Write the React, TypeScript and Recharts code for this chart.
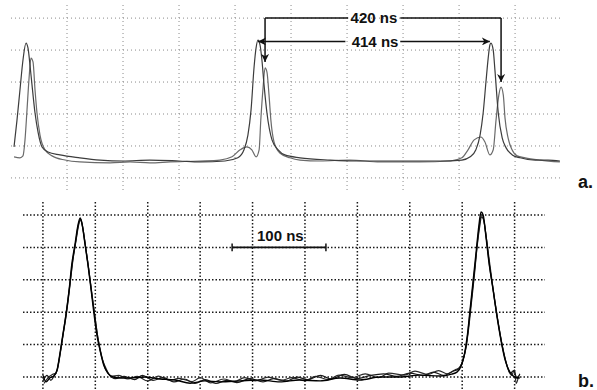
import { LineChart, Line, XAxis, YAxis, CartesianGrid, ReferenceLine, ReferenceDot } from 'recharts';

const FONT = '"Liberation Sans", Arial, Helvetica, sans-serif';

// panel a: time in ns, amplitude in screen divisions
const aTimeTicks = [100, 200, 300, 400, 500, 600, 700, 800, 900];
const aLevelTicks = [0, 1, 2, 3, 4, 5];

const aTraceFast = [
  { t: 5.4, v: 0.97 }, { t: 10.7, v: 1.81 }, { t: 16, v: 2.75 }, { t: 21.4, v: 3.69 },
  { t: 26.8, v: 4.22 }, { t: 30.4, v: 4.06 }, { t: 33.9, v: 3.53 }, { t: 37.5, v: 2.91 },
  { t: 42.9, v: 2.03 }, { t: 48.2, v: 1.44 }, { t: 55.4, v: 0.97 }, { t: 66, v: 0.81 },
  { t: 87.5, v: 0.72 }, { t: 123, v: 0.63 }, { t: 159, v: 0.56 }, { t: 200, v: 0.53 },
  { t: 248, v: 0.56 }, { t: 300, v: 0.53 }, { t: 337.5, v: 0.5 }, { t: 382, v: 0.53 },
  { t: 405, v: 0.63 }, { t: 416, v: 0.88 }, { t: 423, v: 1.34 }, { t: 428.6, v: 2.13 },
  { t: 434, v: 3.47 }, { t: 437.5, v: 4.06 }, { t: 441, v: 4.31 }, { t: 444.6, v: 4.16 },
  { t: 448, v: 3.69 }, { t: 451.8, v: 2.91 }, { t: 457, v: 2.03 }, { t: 466, v: 1.19 },
  { t: 477, v: 0.88 }, { t: 489, v: 0.72 }, { t: 516, v: 0.63 }, { t: 570, v: 0.56 },
  { t: 623, v: 0.53 }, { t: 695, v: 0.53 }, { t: 766, v: 0.53 }, { t: 805, v: 0.56 },
  { t: 820, v: 0.66 }, { t: 830, v: 0.88 }, { t: 837.5, v: 1.34 }, { t: 843, v: 2.03 },
  { t: 848, v: 3.0 }, { t: 852, v: 3.75 }, { t: 855, v: 4.16 }, { t: 857, v: 4.22 },
  { t: 861, v: 4.0 }, { t: 864, v: 3.38 }, { t: 870, v: 2.03 }, { t: 877, v: 1.25 },
  { t: 884, v: 0.94 }, { t: 895, v: 0.72 }, { t: 909, v: 0.63 }, { t: 936, v: 0.56 },
  { t: 959, v: 0.56 }, { t: 980, v: 0.53 },
];

const aTraceSlow = [
  { t: 5.4, v: 0.66 }, { t: 16, v: 0.63 }, { t: 21.4, v: 0.69 }, { t: 25, v: 1.19 },
  { t: 28.6, v: 2.13 }, { t: 32, v: 3.06 }, { t: 35.7, v: 3.75 }, { t: 39.3, v: 3.63 },
  { t: 42.9, v: 2.75 }, { t: 46.4, v: 2.03 }, { t: 51.8, v: 1.34 }, { t: 60.7, v: 0.88 },
  { t: 73.2, v: 0.69 }, { t: 96.4, v: 0.56 }, { t: 123, v: 0.5 }, { t: 177, v: 0.47 },
  { t: 212.5, v: 0.5 }, { t: 248, v: 0.47 }, { t: 284, v: 0.5 }, { t: 337.5, v: 0.53 },
  { t: 373, v: 0.56 }, { t: 394.6, v: 0.66 }, { t: 409, v: 0.88 }, { t: 421, v: 0.97 },
  { t: 430, v: 0.88 }, { t: 437.5, v: 0.66 }, { t: 443, v: 0.88 }, { t: 446, v: 1.81 },
  { t: 450, v: 2.81 }, { t: 453.6, v: 3.44 }, { t: 457, v: 3.31 }, { t: 460.7, v: 2.59 },
  { t: 464, v: 1.81 }, { t: 469.6, v: 1.13 }, { t: 480, v: 0.78 }, { t: 498, v: 0.63 },
  { t: 516, v: 0.56 }, { t: 552, v: 0.53 }, { t: 605, v: 0.56 }, { t: 659, v: 0.5 },
  { t: 730, v: 0.5 }, { t: 784, v: 0.53 }, { t: 805, v: 0.63 }, { t: 816, v: 0.88 },
  { t: 827, v: 1.19 }, { t: 839, v: 1.28 }, { t: 846, v: 1.13 }, { t: 855, v: 0.72 },
  { t: 861, v: 0.88 }, { t: 866, v: 1.81 }, { t: 871, v: 2.59 }, { t: 875, v: 2.84 },
  { t: 879, v: 2.59 }, { t: 882, v: 1.88 }, { t: 887.5, v: 1.25 }, { t: 894.6, v: 0.88 },
  { t: 903.6, v: 0.69 }, { t: 918, v: 0.63 }, { t: 945, v: 0.56 }, { t: 980, v: 0.5 },
];

// panel b: time in screen divisions, amplitude in divisions
const bTimeTicks = [0, 1, 2, 3, 4, 5, 6, 7, 8, 9];
const bLevelTicks = [0, 1, 2, 3, 4, 5];

const bTrace1 = [
  { t: 0, v: 0.06 }, { t: 0.06, v: -0.15 }, { t: 0.13, v: -0.03 }, { t: 0.21, v: 0.03 },
  { t: 0.27, v: 0.22 }, { t: 0.32, v: 0.68 }, { t: 0.38, v: 1.3 }, { t: 0.44, v: 1.91 },
  { t: 0.5, v: 2.69 }, { t: 0.55, v: 3.46 }, { t: 0.61, v: 4.07 }, { t: 0.67, v: 4.69 },
  { t: 0.71, v: 4.91 }, { t: 0.74, v: 4.78 }, { t: 0.8, v: 4.14 }, { t: 0.86, v: 3.46 },
  { t: 0.92, v: 2.69 }, { t: 0.97, v: 2.01 }, { t: 1.03, v: 1.3 }, { t: 1.09, v: 0.83 },
  { t: 1.16, v: 0.37 }, { t: 1.24, v: 0.12 }, { t: 1.34, v: 0.0 }, { t: 1.47, v: -0.03 },
  { t: 1.66, v: -0.03 }, { t: 1.95, v: 0 }, { t: 2.23, v: -0.06 }, { t: 2.52, v: -0.09 },
  { t: 2.81, v: -0.19 }, { t: 3.09, v: -0.12 }, { t: 3.38, v: -0.15 }, { t: 3.76, v: -0.12 },
  { t: 4.14, v: -0.09 }, { t: 4.52, v: -0.15 }, { t: 4.9, v: -0.09 }, { t: 5.29, v: -0.12 },
  { t: 5.67, v: -0.03 }, { t: 6.05, v: -0.09 }, { t: 6.43, v: 0 }, { t: 6.81, v: 0 },
  { t: 7.19, v: 0.06 }, { t: 7.58, v: 0.03 }, { t: 7.8, v: 0.09 }, { t: 7.9, v: 0.15 },
  { t: 7.98, v: 0.34 }, { t: 8.04, v: 0.68 }, { t: 8.1, v: 1.3 }, { t: 8.15, v: 2.07 },
  { t: 8.21, v: 2.99 }, { t: 8.27, v: 3.92 }, { t: 8.32, v: 4.69 }, { t: 8.36, v: 5.09 },
  { t: 8.4, v: 5.0 }, { t: 8.45, v: 4.38 }, { t: 8.51, v: 3.55 }, { t: 8.59, v: 2.69 },
  { t: 8.66, v: 1.91 }, { t: 8.74, v: 1.14 }, { t: 8.82, v: 0.52 }, { t: 8.91, v: 0.15 },
  { t: 9.01, v: 0 }, { t: 9.1, v: -0.03 },
];

const bTrace2 = [
  { t: 0, v: -0.12 }, { t: 0.08, v: 0.05 }, { t: 0.15, v: -0.1 }, { t: 0.22, v: 0.06 },
  { t: 0.28, v: 0.25 }, { t: 0.33, v: 0.72 }, { t: 0.39, v: 1.35 }, { t: 0.45, v: 1.98 },
  { t: 0.51, v: 2.75 }, { t: 0.56, v: 3.5 }, { t: 0.62, v: 4.1 }, { t: 0.67, v: 4.65 },
  { t: 0.71, v: 4.85 }, { t: 0.75, v: 4.7 }, { t: 0.81, v: 4.05 }, { t: 0.87, v: 3.38 },
  { t: 0.93, v: 2.6 }, { t: 0.99, v: 1.9 }, { t: 1.05, v: 1.2 }, { t: 1.11, v: 0.72 },
  { t: 1.18, v: 0.3 }, { t: 1.26, v: 0.08 }, { t: 1.38, v: -0.05 }, { t: 1.55, v: 0.02 },
  { t: 1.75, v: -0.08 }, { t: 1.9, v: 0.05 }, { t: 2.1, v: -0.1 }, { t: 2.3, v: -0.02 },
  { t: 2.5, v: -0.15 }, { t: 2.7, v: -0.06 }, { t: 2.9, v: -0.2 }, { t: 3.1, v: -0.08 },
  { t: 3.3, v: -0.2 }, { t: 3.5, v: -0.1 }, { t: 3.7, v: -0.17 }, { t: 3.95, v: -0.05 },
  { t: 4.2, v: -0.15 }, { t: 4.4, v: -0.05 }, { t: 4.65, v: -0.12 }, { t: 4.85, v: 0.0 },
  { t: 5.05, v: -0.08 }, { t: 5.3, v: 0.05 }, { t: 5.5, v: -0.06 }, { t: 5.75, v: 0.08 },
  { t: 6.0, v: -0.05 }, { t: 6.25, v: 0.05 }, { t: 6.5, v: 0.1 }, { t: 6.75, v: 0.02 },
  { t: 7.0, v: 0.12 }, { t: 7.25, v: 0.05 }, { t: 7.45, v: 0.15 }, { t: 7.65, v: 0.05 },
  { t: 7.82, v: 0.18 }, { t: 7.93, v: 0.25 }, { t: 8.0, v: 0.45 }, { t: 8.06, v: 0.8 },
  { t: 8.12, v: 1.45 }, { t: 8.17, v: 2.2 }, { t: 8.23, v: 3.1 }, { t: 8.28, v: 3.95 },
  { t: 8.33, v: 4.6 }, { t: 8.37, v: 4.94 }, { t: 8.41, v: 4.85 }, { t: 8.46, v: 4.3 },
  { t: 8.52, v: 3.45 }, { t: 8.6, v: 2.6 }, { t: 8.67, v: 1.85 }, { t: 8.75, v: 1.08 },
  { t: 8.83, v: 0.5 }, { t: 8.92, v: 0.12 }, { t: 8.98, v: 0.2 }, { t: 9.05, v: -0.05 },
  { t: 9.1, v: 0.1 },
];

const bTrace3 = [
  { t: 0.02, v: -0.2 }, { t: 0.1, v: -0.02 }, { t: 0.18, v: 0.08 }, { t: 0.25, v: 0.12 },
  { t: 0.3, v: 0.45 }, { t: 0.35, v: 0.95 }, { t: 0.41, v: 1.6 }, { t: 0.47, v: 2.3 },
  { t: 0.53, v: 3.05 }, { t: 0.58, v: 3.7 }, { t: 0.64, v: 4.3 }, { t: 0.69, v: 4.75 },
  { t: 0.72, v: 4.88 }, { t: 0.76, v: 4.6 }, { t: 0.82, v: 3.95 }, { t: 0.88, v: 3.25 },
  { t: 0.94, v: 2.5 }, { t: 1.0, v: 1.75 }, { t: 1.06, v: 1.1 }, { t: 1.12, v: 0.62 },
  { t: 1.2, v: 0.28 }, { t: 1.3, v: 0.02 }, { t: 1.45, v: 0.05 }, { t: 1.62, v: -0.06 },
  { t: 1.8, v: 0.02 }, { t: 2.0, v: -0.12 }, { t: 2.2, v: 0.03 }, { t: 2.42, v: -0.1 },
  { t: 2.6, v: -0.04 }, { t: 2.85, v: -0.14 }, { t: 3.0, v: -0.02 }, { t: 3.2, v: -0.18 },
  { t: 3.45, v: -0.06 }, { t: 3.65, v: -0.14 }, { t: 3.85, v: -0.02 }, { t: 4.05, v: -0.12 },
  { t: 4.3, v: 0.0 }, { t: 4.55, v: -0.1 }, { t: 4.75, v: -0.02 }, { t: 5.0, v: -0.12 },
  { t: 5.2, v: 0.02 }, { t: 5.45, v: -0.08 }, { t: 5.65, v: 0.06 }, { t: 5.9, v: -0.02 },
  { t: 6.15, v: 0.1 }, { t: 6.4, v: -0.02 }, { t: 6.6, v: 0.12 }, { t: 6.9, v: 0.06 },
  { t: 7.1, v: 0.18 }, { t: 7.35, v: 0.08 }, { t: 7.55, v: 0.2 }, { t: 7.72, v: 0.1 },
  { t: 7.86, v: 0.22 }, { t: 7.95, v: 0.3 }, { t: 8.02, v: 0.55 }, { t: 8.08, v: 1.0 },
  { t: 8.13, v: 1.7 }, { t: 8.19, v: 2.6 }, { t: 8.25, v: 3.5 }, { t: 8.3, v: 4.3 },
  { t: 8.35, v: 4.9 }, { t: 8.38, v: 5.02 }, { t: 8.42, v: 4.75 }, { t: 8.48, v: 4.05 },
  { t: 8.55, v: 3.2 }, { t: 8.62, v: 2.35 }, { t: 8.7, v: 1.55 }, { t: 8.78, v: 0.85 },
  { t: 8.86, v: 0.32 }, { t: 8.94, v: 0.05 }, { t: 9.0, v: 0.22 }, { t: 9.03, v: -0.2 },
  { t: 9.08, v: 0.05 },
];

// annotations (values in the panels' own units)
const period420 = { label: '420 ns', from: 453.6, to: 875, level: 5, tipFrom: 3.63, tipTo: 3.0, gap: [602, 695], mid: 648 };
const period414 = { label: '414 ns', from: 441, to: 855, level: 4.27, gap: [597, 695], mid: 650 };
const scaleBar = { label: '100 ns', from: 3.61, to: 5.4, level: 4.0, textLevel: 4.35, mid: 4.53 };

const ink = '#111';
const textStyle = { fill: ink, fontSize: 15, fontWeight: 700, fontFamily: FONT };

const PanelA = () => (
  <LineChart width={597} height={200} margin={{ top: 5, right: 36, bottom: 8, left: 11 }}>
    <defs>
      <marker id="arrowHead" viewBox="0 0 10 10" refX="10" refY="5" markerWidth="8" markerHeight="8"
        orient="auto" markerUnits="userSpaceOnUse">
        <path d="M0,0 L10,5 L0,10 L3,5 z" fill={ink} />
      </marker>
    </defs>
    <CartesianGrid stroke="#8a8a8a" strokeDasharray="1 3" strokeWidth={1} syncWithTicks />
    <XAxis type="number" dataKey="t" domain={[0, 982]} ticks={aTimeTicks} interval={0} hide />
    <YAxis type="number" dataKey="v" domain={[-0.44, 5.41]} ticks={aLevelTicks} interval={0} hide />
    <Line data={aTraceSlow} dataKey="v" type="monotone" stroke="#6a6a6a" strokeWidth={1.2} dot={false} activeDot={false} isAnimationActive={false} />
    <Line data={aTraceFast} dataKey="v" type="monotone" stroke="#3c3c3c" strokeWidth={1.2} dot={false} activeDot={false} isAnimationActive={false} />

    {/* 420 ns bracket */}
    <ReferenceLine segment={[{ x: period420.gap[0], y: period420.level }, { x: period420.from, y: period420.level }]} stroke={ink} strokeWidth={1.5} />
    <ReferenceLine segment={[{ x: period420.from, y: period420.level }, { x: period420.from, y: period420.tipFrom }]} stroke={ink} strokeWidth={1.5} markerEnd="url(#arrowHead)" />
    <ReferenceLine segment={[{ x: period420.gap[1], y: period420.level }, { x: period420.to, y: period420.level }]} stroke={ink} strokeWidth={1.5} />
    <ReferenceLine segment={[{ x: period420.to, y: period420.level }, { x: period420.to, y: period420.tipTo }]} stroke={ink} strokeWidth={1.5} markerEnd="url(#arrowHead)" />
    <ReferenceDot x={period420.mid} y={period420.level} r={0} fill="none" stroke="none"
      label={{ value: period420.label, position: 'center', ...textStyle }} />

    {/* 414 ns arrows */}
    <ReferenceLine segment={[{ x: period414.gap[0], y: period414.level }, { x: period414.from, y: period414.level }]} stroke={ink} strokeWidth={1.5} markerEnd="url(#arrowHead)" />
    <ReferenceLine segment={[{ x: period414.gap[1], y: period414.level }, { x: period414.to, y: period414.level }]} stroke={ink} strokeWidth={1.5} markerEnd="url(#arrowHead)" />
    <ReferenceDot x={period414.mid} y={period414.level} r={0} fill="none" stroke="none"
      label={{ value: period414.label, position: 'center', ...textStyle }} />
  </LineChart>
);

const PanelB = () => (
  <LineChart width={597} height={195} margin={{ top: 7, right: 52, bottom: 0, left: 23 }}>
    <CartesianGrid stroke="#1a1a1a" strokeDasharray="1.5 2" strokeWidth={1.5} syncWithTicks />
    <XAxis type="number" dataKey="t" domain={[-0.38, 9.58]} ticks={bTimeTicks} interval={0} hide />
    <YAxis type="number" dataKey="v" domain={[-0.4, 5.4]} ticks={bLevelTicks} interval={0} hide />
    <Line data={bTrace3} dataKey="v" type="monotone" stroke="#2a2a2a" strokeWidth={1.2} dot={false} activeDot={false} isAnimationActive={false} />
    <Line data={bTrace2} dataKey="v" type="monotone" stroke="#1a1a1a" strokeWidth={1.2} dot={false} activeDot={false} isAnimationActive={false} />
    <Line data={bTrace1} dataKey="v" type="monotone" stroke="#000" strokeWidth={1.4} dot={false} activeDot={false} isAnimationActive={false} />

    <ReferenceLine segment={[{ x: scaleBar.from, y: scaleBar.level }, { x: scaleBar.to, y: scaleBar.level }]} stroke={ink} strokeWidth={1.8} />
    <ReferenceLine segment={[{ x: scaleBar.from, y: scaleBar.level - 0.12 }, { x: scaleBar.from, y: scaleBar.level + 0.12 }]} stroke={ink} strokeWidth={1.5} />
    <ReferenceLine segment={[{ x: scaleBar.to, y: scaleBar.level - 0.12 }, { x: scaleBar.to, y: scaleBar.level + 0.12 }]} stroke={ink} strokeWidth={1.5} />
    <ReferenceDot x={scaleBar.mid} y={scaleBar.textLevel} r={0} fill="none" stroke="none"
      label={{ value: scaleBar.label, position: 'center', ...textStyle }} />
  </LineChart>
);

const panelTag = {
  position: 'absolute' as const,
  fontFamily: FONT,
  fontWeight: 700,
  fontSize: 18,
  color: ink,
  lineHeight: '18px',
};

export default function App() {
  return (
    <div style={{ position: 'absolute', left: 0, top: 0, width: 597, height: 390, background: '#fff', overflow: 'hidden' }}>
      <div style={{ position: 'absolute', left: 0, top: 0 }}>
        <PanelA />
      </div>
      <div style={{ position: 'absolute', left: 0, top: 195 }}>
        <PanelB />
      </div>
      <div style={{ ...panelTag, left: 578, top: 173 }}>a.</div>
      <div style={{ ...panelTag, left: 578, top: 372 }}>b.</div>
    </div>
  );
}
